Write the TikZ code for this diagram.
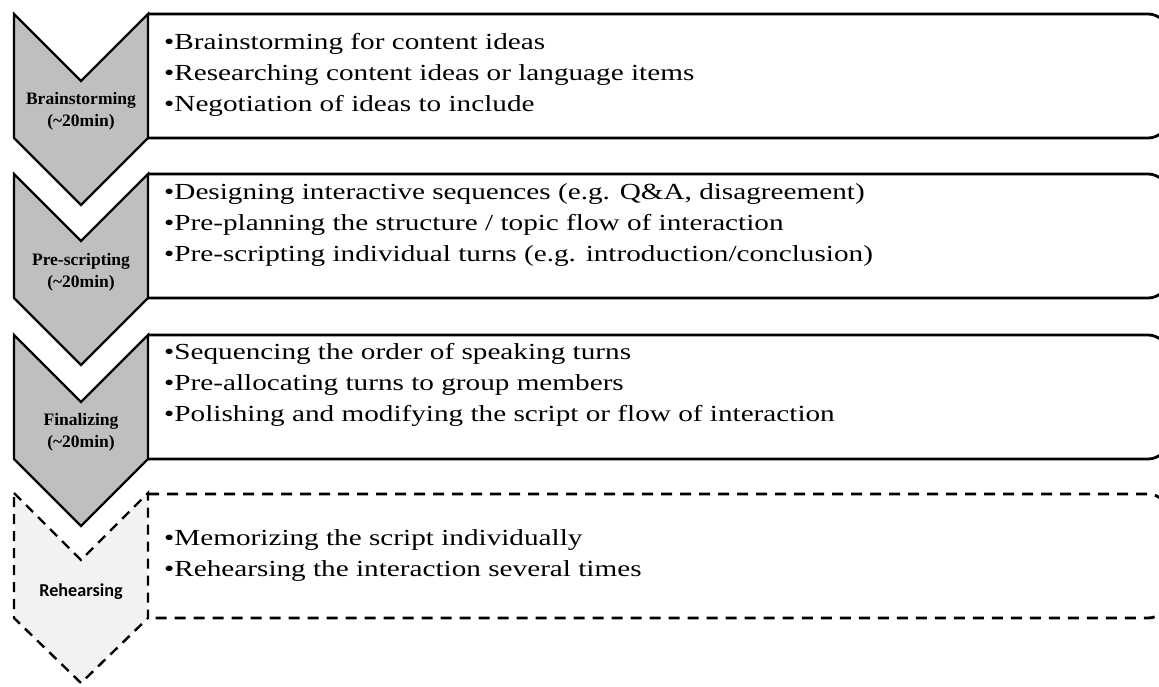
\documentclass[tikz,border=0pt]{standalone}
\usepackage{fontspec}
\setmainfont{Liberation Serif}
\newfontfamily\itemfont[FakeStretch=1.27]{Liberation Serif}
\newfontfamily\calfont{Carlito}

\tikzset{
  stage/.style={draw=black, line width=2.4pt, fill=black!25, line join=miter},
  laterstage/.style={stage, fill=black!5, dash pattern=on 10pt off 7pt},
  taskbox/.style={draw=black, line width=2.8pt, rounded corners=20pt},
  latertaskbox/.style={taskbox, dash pattern=on 11pt off 8pt},
  tasks/.style={anchor=base west, align=left, inner sep=0pt,
    font={\itemfont\fontsize{23pt}{31pt}\selectfont}},
  stagename/.style={anchor=base, align=center, inner sep=0pt,
    font={\bfseries\fontsize{17.5pt}{22pt}\selectfont}}
}

\begin{document}
\begin{tikzpicture}[x=1pt, y=-1pt]
      \useasboundingbox (0,0) rectangle (1159,686);

      % boxes with the tasks
      \draw[taskbox] (148,14)  -- (1168,14)  -- (1168,138) -- (148,138);
      \draw[taskbox] (148,174) -- (1168,174) -- (1168,298) -- (148,298);
      \draw[taskbox] (148,335) -- (1168,335) -- (1168,459) -- (148,459);
      \draw[latertaskbox] (148,494) -- (1168,494) -- (1168,618) -- (148,618);

      % chevrons
      \draw[stage] (14,14) -- (81,81) -- (148,14) -- (148,138) -- (81,205) -- (14,138) -- cycle;
      \draw[stage] (14,174) -- (81,241) -- (148,174) -- (148,298) -- (81,365) -- (14,298) -- cycle;
      \draw[stage] (14,335) -- (81,402) -- (148,335) -- (148,459) -- (81,526) -- (14,459) -- cycle;
      \draw[laterstage] (14,493) -- (81,560) -- (148,493) -- (148,618) -- (81,683) -- (14,618) -- cycle;

      % base = last line
      \node[stagename](S1) at (81,126) {Brainstorming\\(\textasciitilde20min)};
      \node[stagename](S2) at (81,287) {Pre-scripting\\(\textasciitilde20min)};
      \node[stagename](S3) at (81,447) {Finalizing\\(\textasciitilde20min)};
      \node[stagename, font={\calfont\bfseries\fontsize{18.2pt}{22pt}\selectfont}](S4) at (81,596) {Rehearsing};

      \node[tasks](T1) at (164,111) {\textbullet Brainstorming for content ideas\\
        \textbullet Researching content ideas or language items\\
        \textbullet Negotiation of ideas to include};
      \node[tasks](T2) at (164,261) {\textbullet Designing interactive sequences (e.g. Q\&A, disagreement)\\
        \textbullet Pre-planning the structure / topic flow of interaction\\
        \textbullet Pre-scripting individual turns (e.g. introduction/conclusion)};
      \node[tasks](T3) at (164,421) {\textbullet Sequencing the order of speaking turns\\
        \textbullet Pre-allocating turns to group members\\
        \textbullet Polishing and modifying the script or flow of interaction};
      \node[tasks](T4) at (164,576) {\textbullet Memorizing the script individually\\
        \textbullet Rehearsing the interaction several times};
    \end{tikzpicture}
\end{document}
